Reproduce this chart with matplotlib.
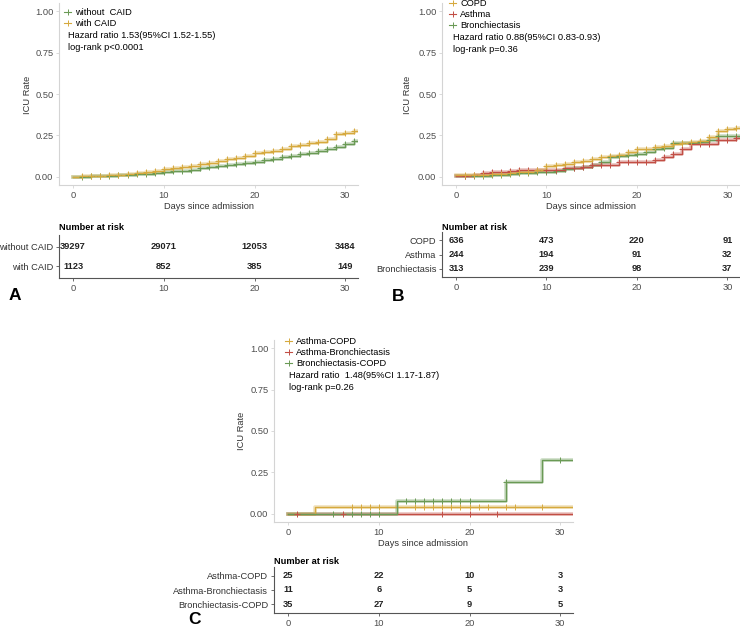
import numpy as np
import matplotlib
matplotlib.use("Agg")
import matplotlib.pyplot as plt
from matplotlib.lines import Line2D

plt.rcParams['font.family'] = ['Liberation Sans', 'DejaVu Sans']

# 색상
GOLD = "#D6A93E"
GREEN = "#6A9A55"
RED = "#C24E45"
FS = 6.7

# ---- Panel A data ----
days = list(range(0, 32))
a_without = [0, .001, .002, .004, .006, .008, .011, .014, .018, .022, .027, .032, .037, .043, .05, .056,
             .063, .07, .077, .084, .092, .1, .109, .118, .127, .136, .146, .156, .167, .18, .2, .218]
a_with = [0, .002, .004, .006, .009, .012, .016, .02, .026, .032, .044, .052, .058, .065, .074, .085,
          .095, .106, .114, .126, .143, .148, .158, .168, .185, .193, .203, .21, .228, .258, .265, .276]
a_labels = ["without  CAID", "with CAID"]
a_risk_labels = ["without CAID", "with CAID"]
a_risk = [[39297, 29071, 12053, 3484], [1123, 852, 385, 149]]
a_hr = "Hazard ratio 1.53(95%CI 1.52-1.55)"
a_p = "log-rank p<0.0001"

# ---- Panel B data ----
b_copd = [.008, .008, .01, .012, .015, .018, .022, .027, .03, .04, .065, .072, .077, .087, .097, .108,
          .118, .125, .132, .148, .168, .17, .178, .185, .2, .205, .21, .215, .24, .278, .288, .296]
b_asthma = [.005, .005, .012, .02, .028, .03, .033, .042, .042, .042, .042, .042, .05, .052, .058, .068,
            .07, .07, .09, .09, .09, .09, .1, .118, .135, .165, .2, .2, .2, .22, .22, .235]
b_bron = [.005, .005, .005, .007, .008, .012, .018, .022, .025, .028, .03, .035, .045, .052, .058, .068,
          .09, .118, .125, .132, .14, .15, .168, .175, .205, .205, .205, .21, .22, .245, .245, .245]
b_labels = ["COPD", "Asthma", "Bronchiectasis"]
b_risk = [[636, 473, 220, 91], [244, 194, 91, 32], [313, 239, 98, 37]]
b_hr = "Hazard ratio 0.88(95%CI 0.83-0.93)"
b_p = "log-rank p=0.36"

# ---- Panel C data ----
c_ac_t = [0, 3]
c_ac_v = [0, 0.04]
c_ac_cens = [7, 8, 9, 10, 14, 15, 16, 17, 18, 19, 20, 21, 22, 24, 25, 28]
c_ab_t = [0]
c_ab_v = [0]
c_ab_cens = [1, 6, 17, 20, 23]
c_bc_t = [0, 12, 24, 28]
c_bc_v = [0, 0.077, 0.192, 0.325]
c_bc_cens = [5, 7, 8, 9, 10, 13, 14, 15, 16, 17, 18, 19, 20, 24, 30]
c_labels = ["Asthma-COPD", "Asthma-Bronchiectasis", "Bronchiectasis-COPD"]
c_risk = [[25, 22, 10, 3], [11, 6, 5, 3], [35, 27, 9, 5]]
c_hr = "Hazard ratio  1.48(95%CI 1.17-1.87)"
c_p = "log-rank p=0.26"

risk_times = [0, 10, 20, 30]
xticks = [0, 10, 20, 30]
yticks = [0, 0.25, 0.5, 0.75, 1.0]
ytick_labels = ["0.00", "0.25", "0.50", "0.75", "1.00"]

W, H = 740, 635
XMIN, XMAX = -1.55, 31.4
fig = plt.figure(figsize=(W / 100, H / 100), dpi=100)


def add_ax(left, top, right, bottom):
    return fig.add_axes([left / W, 1 - bottom / H, (right - left) / W, (bottom - top) / H])


def step_value(t_list, v_list, t):
    idx = np.searchsorted(np.array(t_list), t, side='right') - 1
    return np.array(v_list)[idx]


def draw_curve(ax, t_list, v_list, cens, color):
    t = np.append(t_list, XMAX)
    v = np.append(v_list, v_list[-1])
    ax.step(t, v, where='post', color=color, lw=2.6, alpha=0.35, zorder=2)
    ax.step(t, v, where='post', color=color, lw=1, zorder=3)
    cy = [step_value(t_list, v_list, c) for c in cens]
    ax.plot(cens, cy, ls='none', marker='+', color=color, ms=4, mew=0.7, zorder=4)


def main_axes(left, top, right, bottom, ylab_x, ylab_y):
    ax = add_ax(left, top, right, bottom)
    ax.set_xlim(XMIN, XMAX)
    ax.set_ylim(-0.05, 1.05)
    for s in ['top', 'right']:
        ax.spines[s].set_visible(False)
    for s in ['left', 'bottom']:
        ax.spines[s].set_color('#D4D4D4')
        ax.spines[s].set_linewidth(0.8)
    ax.set_xticks(xticks)
    ax.set_yticks(yticks)
    ax.set_yticklabels(ytick_labels)
    ax.tick_params(colors='#D4D4D4', labelcolor='#4D4D4D', labelsize=FS, length=2, width=0.6, pad=2)
    ax.set_xlabel("Days since admission", fontsize=FS, color='#333333', labelpad=2)
    ax.set_ylabel("ICU Rate", fontsize=FS, color='#333333')
    ax.yaxis.set_label_coords((ylab_x + 4.5) / W, 1 - ylab_y / H, transform=fig.transFigure)
    return ax


def legend_block(ax, labels, colors, x, y, hr, p, text_dy):
    handles = [Line2D([], [], color=c, marker='+', lw=0.8, ms=4, mew=0.7) for c in colors]
    ax.legend(handles, labels, loc='upper left', bbox_to_anchor=(x / W, 1 - y / H),
              bbox_transform=fig.transFigure, frameon=False, fontsize=FS, handlelength=0.8,
              handletextpad=0.4, labelspacing=0.22, borderpad=0, borderaxespad=0)
    ax.text((x + 4) / W, 1 - text_dy[0] / H, hr, transform=fig.transFigure, fontsize=FS, va='center')
    ax.text((x + 4) / W, 1 - text_dy[1] / H, p, transform=fig.transFigure, fontsize=FS, va='center')


def risk_table(left, top, right, bottom, labels, counts, title_y):
    ax = add_ax(left, top, right, bottom)
    n = len(labels)
    ax.set_xlim(XMIN, XMAX)
    ax.set_ylim(n - 0.4, -0.6)
    for s in ['top', 'right']:
        ax.spines[s].set_visible(False)
    for s in ['left', 'bottom']:
        ax.spines[s].set_color('#555555')
        ax.spines[s].set_linewidth(0.8)
    ax.set_yticks(range(n))
    ax.set_yticklabels(labels)
    ax.set_xticks(xticks)
    ax.tick_params(colors='#555555', labelcolor='#333333', labelsize=FS, length=2, width=0.6, pad=2)
    ax.tick_params(axis='x', labelcolor='#4D4D4D')
    for i, row in enumerate(counts):
        for t, c in zip(risk_times, row):
            ax.text(t, i, str(c), ha='center', va='center', fontsize=FS, fontweight='bold', color='#222222')
    fig.text(left / W, 1 - title_y / H, "Number at risk", fontsize=FS, fontweight='bold', va='center')
    return ax


# ---- Panel A ----
ax = main_axes(59, 3, 358, 185, 27, 95)
draw_curve(ax, days, a_without, days[1:], GREEN)
draw_curve(ax, days, a_with, days[1:], GOLD)
legend_block(ax, a_labels, [GREEN, GOLD], 64, 8, a_hr, a_p, (36, 48))
risk_table(59, 235, 358, 278, a_risk_labels, a_risk, 227)
fig.text(15 / W, 1 - 296 / H, "A", fontsize=12.5, fontweight='bold', ha='center', va='center')

# ---- Panel B ----
ax = main_axes(442, 3, 740, 185, 407, 95)
draw_curve(ax, days, b_bron, days[1:], GREEN)
draw_curve(ax, days, b_asthma, days[1:], RED)
draw_curve(ax, days, b_copd, days[1:], GOLD)
legend_block(ax, b_labels, [GOLD, RED, GREEN], 449, -1, b_hr, b_p, (38, 50))
risk_table(442, 232, 740, 277, b_labels, b_risk, 227)
fig.text(398 / W, 1 - 297 / H, "B", fontsize=12.5, fontweight='bold', ha='center', va='center')

# ---- Panel C ----
ax = main_axes(274, 340, 573, 522, 242, 431)
draw_curve(ax, c_ab_t, c_ab_v, c_ab_cens, RED)
draw_curve(ax, c_ac_t, c_ac_v, c_ac_cens, GOLD)
draw_curve(ax, c_bc_t, c_bc_v, c_bc_cens, GREEN)
legend_block(ax, c_labels, [GOLD, RED, GREEN], 285, 337, c_hr, c_p, (376, 388))
risk_table(274, 567, 573, 613, c_labels, c_risk, 562)
fig.text(195 / W, 1 - 620 / H, "C", fontsize=12.5, fontweight='bold', ha='center', va='center')

fig.savefig("out.png", dpi=100)
